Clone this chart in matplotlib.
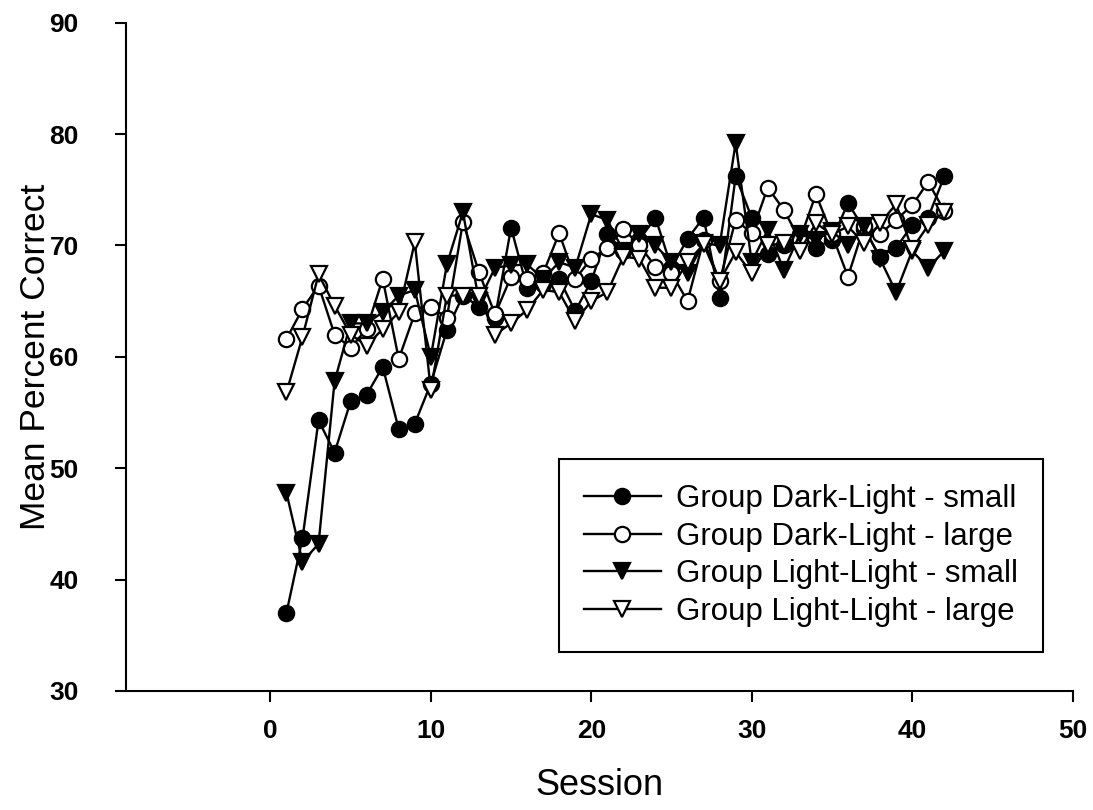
import numpy as np
import matplotlib
matplotlib.use("Agg")
import matplotlib.pyplot as plt

plt.rcParams["font.family"] = ["Liberation Sans", "DejaVu Sans"]

# Sitzungen 1..42
sessions = list(range(1, 43))

dark_small = [37.0, 43.7, 54.3, 51.4, 56.0, 56.6, 59.1, 53.5, 54.0, 57.6,
              62.4, 65.5, 64.5, 63.5, 71.6, 66.2, 66.5, 67.0, 64.1, 66.8,
              71.0, 69.5, 70.5, 72.5, 68.0, 70.6, 72.5, 65.3, 76.2, 72.5,
              69.2, 70.0, 71.0, 69.8, 70.5, 73.8, 71.5, 69.0, 69.8, 71.8,
              72.5, 76.2]
dark_large = [61.6, 64.3, 66.4, 62.0, 60.8, 62.5, 67.0, 59.8, 63.9, 64.5,
              63.5, 72.1, 67.6, 63.8, 67.2, 67.0, 67.5, 71.1, 67.0, 68.8,
              69.8, 71.5, 70.0, 68.1, 67.5, 65.0, 70.5, 66.8, 72.3, 71.1,
              75.2, 73.2, 70.5, 74.6, 71.0, 67.2, 71.7, 71.0, 72.3, 73.6,
              75.7, 73.1]
light_small = [47.8, 41.6, 43.2, 57.8, 63.0, 63.0, 64.0, 65.5, 66.0, 60.0,
               68.3, 73.0, 65.0, 68.0, 68.2, 68.3, 67.0, 68.5, 68.0, 72.8,
               72.3, 69.5, 71.0, 70.0, 68.5, 67.5, 70.2, 70.0, 79.2, 68.5,
               71.4, 67.8, 71.0, 70.5, 71.3, 70.0, 71.7, 68.8, 65.8, 69.5,
               68.0, 69.5]
light_large = [56.8, 61.8, 67.4, 64.6, 62.0, 61.0, 62.5, 64.0, 70.3, 57.0,
               65.5, 65.5, 65.5, 62.0, 63.0, 64.2, 66.0, 65.8, 63.2, 65.0,
               65.8, 69.0, 68.8, 66.2, 66.2, 68.5, 70.1, 66.8, 69.4, 67.5,
               70.0, 70.2, 69.5, 72.0, 71.0, 71.7, 70.2, 72.0, 73.7, 69.7,
               71.8, 73.0]

fig = plt.figure(figsize=(10.93, 8.10), dpi=100)
ax = fig.add_axes([0.1153, 0.147, 0.866, 0.825])

style = dict(color="black", linewidth=1.7, markersize=11, markeredgewidth=1.6,
             markeredgecolor="black")

ax.plot(sessions, dark_small, marker="o", markerfacecolor="black",
        label="Group Dark-Light - small", **style)
ax.plot(sessions, dark_large, marker="o", markerfacecolor="white",
        label="Group Dark-Light - large", **style)
ax.plot(sessions, light_small, marker="v", markerfacecolor="black",
        label="Group Light-Light - small", **style)
ax.plot(sessions, light_large, marker="v", markerfacecolor="white",
        label="Group Light-Light - large", **style)

ax.set_xlim(-9, 50)
ax.set_ylim(30, 90)
ax.set_xticks([0, 10, 20, 30, 40, 50])
ax.set_yticks([30, 40, 50, 60, 70, 80, 90])

for s in ["top", "right"]:
    ax.spines[s].set_visible(False)
for s in ["left", "bottom"]:
    ax.spines[s].set_linewidth(1.5)

ax.tick_params(direction="out", length=8, width=1.5, labelsize=19)
ax.tick_params(axis="x", pad=12)
ax.tick_params(axis="y", pad=26)
for lab in ax.get_xticklabels() + ax.get_yticklabels():
    lab.set_fontweight("bold")

ax.set_xlabel("Session", fontsize=26, labelpad=18)
ax.set_ylabel("Mean Percent Correct", fontsize=25.5, labelpad=-2)

leg = ax.legend(loc="lower right", bbox_to_anchor=(0.969, 0.058),
                fontsize=22.5, fancybox=False, framealpha=1,
                edgecolor="black", handlelength=2.45, handletextpad=0.5,
                borderpad=0.8, labelspacing=0.25, borderaxespad=0)
leg.get_frame().set_linewidth(1.5)

fig.savefig("out.png", dpi=100)
